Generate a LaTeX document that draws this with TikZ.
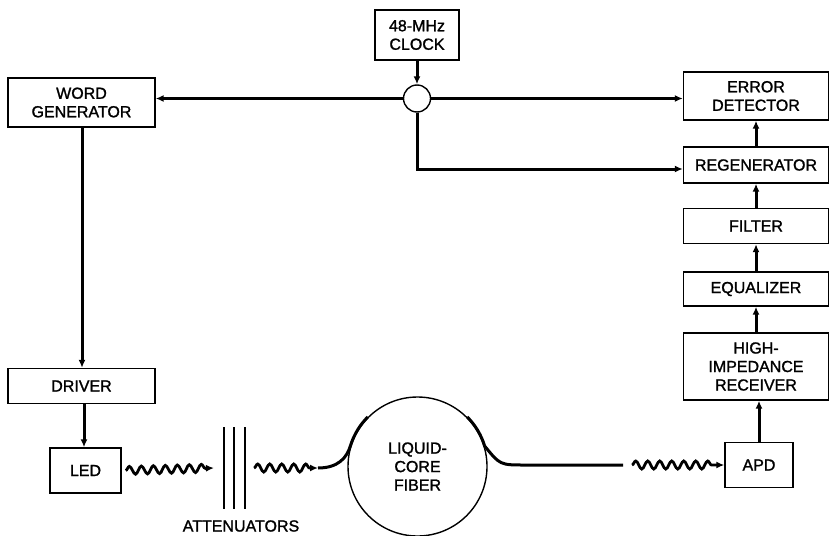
\documentclass[tikz,border=0pt]{standalone}
\usepackage{fontspec}
\setmainfont{Liberation Sans}[FakeBold=1.4]
\usetikzlibrary{arrows.meta, positioning, decorations.pathmorphing}

\begin{document}
\begin{tikzpicture}[x=1pt, y=-1pt, font=\fontsize{16}{18.5}\selectfont,
  box/.style={draw, line width=1.4pt, align=center, inner sep=0pt},
  arrow/.style={-{Latex[length=8pt, width=7pt]}, line width=3pt},
  fiberline/.style={line width=3pt},
  wave/.style={line width=2.8pt, -{Latex[length=8pt, width=7pt]}, decorate, decoration={snake, segment length=12pt, amplitude=4pt, post length=8pt}}]

\useasboundingbox (0,0) rectangle (829,535);

% transmitter side
\node[box, minimum width=147pt, minimum height=49pt] (wordgen) at (81.5,102.5) {WORD\\GENERATOR};
\node[box, minimum width=147pt, minimum height=35pt] (driver) at (81.5,386) {DRIVER};
\node[box, minimum width=71pt, minimum height=45pt] (led) at (85.5,470.5) {LED};

% clock
\node[box, minimum width=84pt, minimum height=50pt] (clock) at (417,35) {48-MHz\\CLOCK};
\node[draw, circle, line width=1.4pt, minimum size=27pt, inner sep=0pt] (junction) at (417,98.5) {};

% receiver side
\node[box, minimum width=145pt, minimum height=48pt] (errdet) at (756,96) {ERROR\\DETECTOR};
\node[box, minimum width=145pt, minimum height=36pt] (regen) at (756,165) {REGENERATOR};
\node[box, minimum width=145pt, minimum height=35pt] (filter) at (756,226) {FILTER};
\node[box, minimum width=145pt, minimum height=34pt] (equal) at (756,289) {EQUALIZER};
\node[box, minimum width=145pt, minimum height=67pt] (receiver) at (756,366.5) {HIGH-\\IMPEDANCE\\RECEIVER};
\node[box, minimum width=68pt, minimum height=45pt] (apd) at (759,465) {APD};

% fiber and attenuators
\node[draw, circle, line width=1.4pt, minimum size=139pt, align=center, inner sep=0pt] (fiber) at (417.5,466.5) {LIQUID-\\CORE\\FIBER};
\coordinate (attA) at (224,468);
\coordinate (attB) at (234,468);
\coordinate (attC) at (245,468);
\foreach \a in {attA, attB, attC}
  \draw[line width=1.4pt] ([yshift=41pt]\a) -- ([yshift=-41pt]\a);
\node (attlabel) at (241,526) {ATTENUATORS};
\coordinate (fibin) at (318,468);
\coordinate (fibout) at (623,465);

% clock distribution
\draw[arrow] (clock) -- (junction);
\draw[arrow] (junction) -- (junction -| wordgen.east);
\draw[arrow] (junction) -- (junction -| errdet.west);
\draw[arrow] (junction) |- (regen.west |- 0,169);

% transmitter
\draw[arrow] (wordgen.south -| 82,0) -- (driver.north -| 82,0);
\draw[arrow] (driver.south -| 84,0) -- (led.north -| 84,0);

% optical path
\draw[wave] ([xshift=4pt]led.east) -- ([xshift=-10pt]attA);
\draw[wave] ([xshift=9pt]attC) -- (fibin);
\draw[fiberline] (fibin) .. controls (338,468) and (347,458) .. (fiber.162)
  arc[start angle=162, end angle=135, radius=70.2pt];
\draw[fiberline] (fiber.45) arc[start angle=45, end angle=17, radius=70.2pt]
  .. controls (500,465) .. (525,465) -- (fibout);
\draw[wave] ([xshift=9pt]fibout) -- (apd.west);

% receiver chain
\draw[arrow] (apd.north) -- (apd.north |- receiver.south);
\draw[arrow] (receiver) -- (equal);
\draw[arrow] (equal) -- (filter);
\draw[arrow] (filter) -- (regen);
\draw[arrow] (regen) -- (errdet);

\end{tikzpicture}
\end{document}
